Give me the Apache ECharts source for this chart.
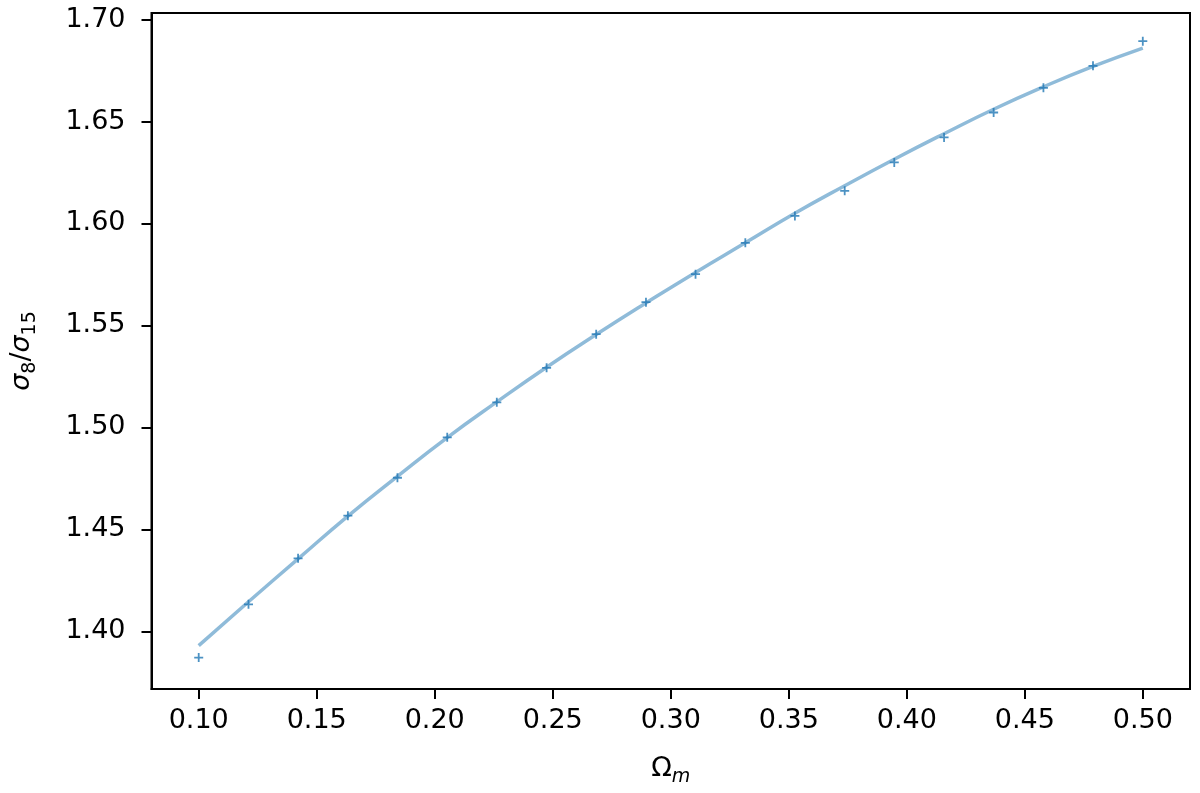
<!DOCTYPE html>
<html>
<head>
<meta charset="utf-8">
<script src="https://cdn.jsdelivr.net/npm/echarts@6/dist/echarts.min.js"></script>
<style>
  html, body { margin: 0; padding: 0; background: #fff; }
  #chart { width: 1200px; height: 793px; }
</style>
</head>
<body>
<div id="chart"></div>
<script>
// sample positions of Omega_m
var omegaM = [0.1, 0.1211, 0.1421, 0.1632, 0.1842, 0.2053, 0.2263, 0.2474, 0.2684, 0.2895,
              0.3105, 0.3316, 0.3526, 0.3737, 0.3947, 0.4158, 0.4368, 0.4579, 0.4789, 0.5];
// measured sigma8/sigma15 (the + markers)
var ratioPoints = [1.3871, 1.4132, 1.4358, 1.4567, 1.4753, 1.4951, 1.5123, 1.5292, 1.5457, 1.5614,
                   1.5751, 1.5905, 1.6037, 1.6160, 1.6299, 1.6422, 1.6544, 1.6665, 1.6773, 1.6894];
// fitted curve read at the same positions
var ratioFit = [1.3930, 1.4145, 1.4355, 1.4565, 1.4760, 1.4950, 1.5125, 1.5295, 1.5455, 1.5610,
                1.5760, 1.5905, 1.6050, 1.6185, 1.6315, 1.6440, 1.6560, 1.6670, 1.6770, 1.6860];
var xTicks = [0.10, 0.15, 0.20, 0.25, 0.30, 0.35, 0.40, 0.45, 0.50];
var yTicks = [1.40, 1.45, 1.50, 1.55, 1.60, 1.65, 1.70];

var chart = echarts.init(document.getElementById('chart'), null, {renderer: 'canvas'});

var font = 'DejaVu Sans';
var plusSymbol = 'path://M4,0H6V4H10V6H6V10H4V6H0V4H4Z';

var option = {
    animation: false,
    backgroundColor: '#fff',
    grid: {
        left: 150, right: 10, top: 13, bottom: 104,
        show: true, borderColor: '#000', borderWidth: 2
    },
    xAxis: {
        type: 'value',
        min: 0.08, max: 0.52,
        splitLine: {show: false},
        axisLine: {show: true, lineStyle: {color: '#000', width: 2}},
        axisTick: {show: true, customValues: xTicks, length: 10, lineStyle: {color: '#000', width: 2}},
        axisLabel: {
            customValues: xTicks, margin: 18, color: '#000', fontFamily: font, fontSize: 27,
            formatter: function (v) { return v.toFixed(2); }
        },
        name: '{a|Ω}{b|m}',
        nameLocation: 'middle',
        nameGap: 62,
        nameTextStyle: {
            rich: {
                a: {fontFamily: font, fontSize: 27, color: '#000', lineHeight: 36},
                b: {fontFamily: font, fontStyle: 'italic', fontSize: 19, color: '#000', verticalAlign: 'bottom', lineHeight: 28}
            }
        }
    },
    yAxis: {
        type: 'value',
        min: 1.3717, max: 1.7032,
        splitLine: {show: false},
        axisLine: {show: true, lineStyle: {color: '#000', width: 2}},
        axisTick: {show: true, customValues: yTicks, length: 10, lineStyle: {color: '#000', width: 2}},
        axisLabel: {
            customValues: yTicks, margin: 26, color: '#000', fontFamily: font, fontSize: 27,
            formatter: function (v) { return v.toFixed(2); }
        },
        name: '{a|σ}{b|8}{c|/}{a|σ}{b|15}',
        nameLocation: 'middle',
        nameRotate: 90,
        nameGap: 112,
        nameTextStyle: {
            rich: {
                a: {fontFamily: font, fontStyle: 'italic', fontSize: 27, color: '#000', lineHeight: 36},
                b: {fontFamily: font, fontSize: 19, color: '#000', verticalAlign: 'bottom', lineHeight: 28},
                c: {fontFamily: font, fontSize: 27, color: '#000', lineHeight: 36}
            }
        }
    },
    series: [
        {
            type: 'line',
            data: omegaM.map(function (x, i) { return [x, ratioFit[i]]; }),
            smooth: true,
            showSymbol: false,
            lineStyle: {color: 'rgba(31,119,180,0.5)', width: 3.5},
            z: 2
        },
        {
            type: 'scatter',
            data: omegaM.map(function (x, i) { return [x, ratioPoints[i]]; }),
            symbol: plusSymbol,
            symbolSize: 9,
            itemStyle: {color: '#1f77b4'},
            z: 3
        }
    ]
};

chart.setOption(option);
</script>
</body>
</html>
